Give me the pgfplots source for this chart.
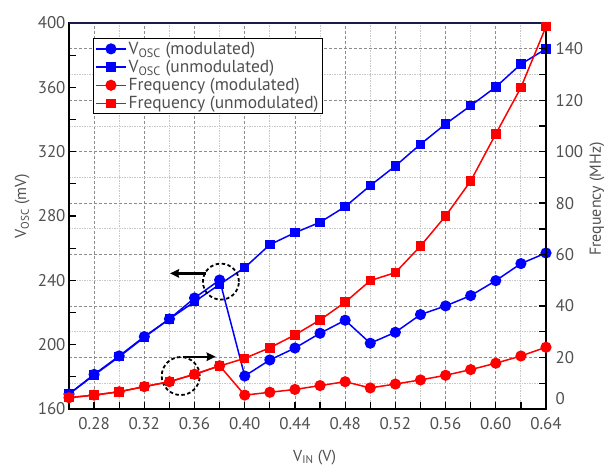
\documentclass[border=0pt]{standalone}
\usepackage{fontspec}
\setmainfont{PT Sans}
\usepackage{pgfplots}
\usepackage{pgfplotstable}
\pgfplotsset{compat=1.18}
\usetikzlibrary{arrows.meta}

\definecolor{txt}{HTML}{505050}
\definecolor{gmaj}{HTML}{8C8C8C}
\definecolor{gmin}{HTML}{C8C8C8}
\definecolor{frametop}{HTML}{1A1A4E}

% V_IN (V), V_OSC (mV) and oscillation frequency (MHz)
\pgfplotstableread{
vin  vmod  vunmod fmod funmod
0.26 169.3 169.3  4.4  4.4
0.28 181.5 181.1  5.4  5.4
0.30 193.0 192.5  6.7  6.7
0.32 205.0 204.6  8.7  8.7
0.34 216.0 216.0 10.6 10.6
0.36 229.0 226.7 13.5 13.5
0.38 240.2 237.5 16.8 16.7
0.40 180.5 247.9  5.4 19.7
0.42 190.5 262.2  6.5 23.8
0.44 197.9 269.6  7.6 28.8
0.46 207.1 276.1  9.1 34.6
0.48 215.2 285.8 10.6 41.5
0.50 200.9 298.9  8.2 49.9
0.52 207.7 311.1  9.7 53.0
0.54 218.7 324.6 11.3 63.3
0.56 224.1 337.2 13.1 75.0
0.58 230.5 348.6 15.3 88.6
0.60 239.8 360.2 17.8 106.9
0.62 250.4 374.4 20.6 124.9
0.64 257.0 383.9 24.0 148.6
}\data

\pgfplotsset{
  base/.style={
    scale only axis, width=477bp, height=386bp,
    xmin=0.26, xmax=0.64, clip=false,
    tick align=inside,
    major tick length=7bp, minor tick length=7bp,
    every tick/.style={black, line width=1.3bp},
    every minor tick/.style={black, line width=1.3bp},
    tick label style={font=\fontsize{17}{17}\selectfont, text=txt},
    label style={font=\fontsize{16}{16}\selectfont, text=txt},
    /pgf/number format/assume math mode=true,
  },
  vline/.style={blue, line width=1.5bp},
  rline/.style={red, line width=1.5bp},
  circ/.style={mark=*, mark size=4.8bp, mark options={solid}},
  sqr/.style={mark=square*, mark size=4bp, mark options={solid}},
}
\tikzset{
  ring/.style={black, line width=1.8bp, dash pattern=on 3.5bp off 2.5bp},
  pointer/.style={black, line width=2.2bp, -{Stealth[length=9bp, width=8.5bp, inset=1bp]}},
}

\begin{document}
\begin{tikzpicture}
% background grid, laid out on the frequency scale
\begin{axis}[base,
  ymin=0, ymax=150,
  axis line style={draw=none},
  xtick={0.28,0.32,0.36,0.40,0.44,0.48,0.52,0.56,0.60},
  minor xtick={0.30,0.34,0.38,0.42,0.46,0.50,0.54,0.58,0.62},
  ytick={20,40,60,80,100,120,140},
  minor ytick={10,30,50,70,90,110,130},
  xticklabels={}, yticklabels={},
  major tick length=0pt, minor tick length=0pt,
  grid=both,
  major grid style={gmaj, line width=0.8bp, dash pattern=on 3bp off 2bp},
  minor grid style={gmin, line width=0.8bp, dash pattern=on 1.5bp off 1bp},
]
\addplot[draw=none] coordinates {(0.26,0)};
\end{axis}

% left axis: oscillation amplitude
\begin{axis}[base,
  ymin=160, ymax=400,
  axis line style={black, line width=1.5bp},
  xtick pos=bottom, ytick pos=left,
  xtick={0.28,0.32,0.36,0.40,0.44,0.48,0.52,0.56,0.60,0.64},
  minor xtick={0.26,0.30,0.34,0.38,0.42,0.46,0.50,0.54,0.58,0.62},
  ytick={160,200,240,280,320,360,400},
  minor ytick={180,220,260,300,340,380},
  xticklabel style={yshift=-5bp, /pgf/number format/fixed, /pgf/number format/fixed zerofill, /pgf/number format/precision=2},
  yticklabel style={/pgf/number format/fixed, /pgf/number format/precision=0},
  xlabel={V\textsubscript{IN} (V)},
  ylabel={V\textsubscript{OSC} (mV)},
  xlabel style={at={(axis description cs:0.515,-0.125)}, anchor=center},
  ylabel style={at={(axis description cs:-0.098,0.526)}, anchor=center, rotate=0},
]
\coordinate (sw) at (rel axis cs:0,0);
\coordinate (ne) at (rel axis cs:1,1);
\addplot[vline, circ] table[x=vin, y=vmod] {\data};
\addplot[vline, sqr] table[x=vin, y=vunmod] {\data};
% markers pointing each group to its own scale
\draw[ring] (axis cs:0.381,239.2) circle[radius=18bp];
\draw[ring] (axis cs:0.349,180.5) circle[radius=19bp];
\draw[pointer] (axis cs:0.3692,244.3) -- (axis cs:0.3405,244.3);
\draw[pointer] (axis cs:0.3506,192.5) -- (axis cs:0.3768,192.5);
\end{axis}

% right axis: oscillation frequency
\begin{axis}[base,
  ymin=0, ymax=150,
  axis x line=none,
  axis y line*=right,
  axis line style={black, line width=1.5bp},
  ytick={20,40,60,80,100,120,140},
  minor ytick={10,30,50,70,90,110,130},
  yticklabel style={xshift=6bp, /pgf/number format/fixed, /pgf/number format/precision=0},
  extra y ticks={0},
  extra y tick style={yticklabel style={yshift=10bp}},
  ylabel={Frequency (MHz)},
  ylabel style={at={(axis description cs:1.107,0.544)}, anchor=center, rotate=0},
  legend cell align=left,
  legend style={at={(axis description cs:0.0497,0.960)}, anchor=north west,
    draw=black, line width=1bp, fill=white,
    font=\fontsize{17.5}{17.5}\selectfont, text=txt,
    inner xsep=2bp, inner ysep=1bp, row sep=0.3bp},
  legend image code/.code={\draw[mark repeat=2, mark phase=2] plot coordinates {(0bp,0bp) (15bp,0bp) (30bp,0bp)};},
]
\addlegendimage{vline, circ}
\addlegendentry{V\textsubscript{OSC} (modulated)}
\addlegendimage{vline, sqr}
\addlegendentry{V\textsubscript{OSC} (unmodulated)}
\addplot[rline, circ] table[x=vin, y=fmod] {\data};
\addlegendentry{Frequency (modulated)}
\addplot[rline, sqr] table[x=vin, y=funmod] {\data};
\addlegendentry{Frequency (unmodulated)}
\draw[frametop, line width=1.5bp] (rel axis cs:0,1) -- (rel axis cs:1,1);
\end{axis}

\pgfresetboundingbox
\path[use as bounding box] ([shift={(-69bp,-59bp)}]sw) rectangle ([shift={(62bp,23bp)}]ne);
\end{tikzpicture}
\end{document}
